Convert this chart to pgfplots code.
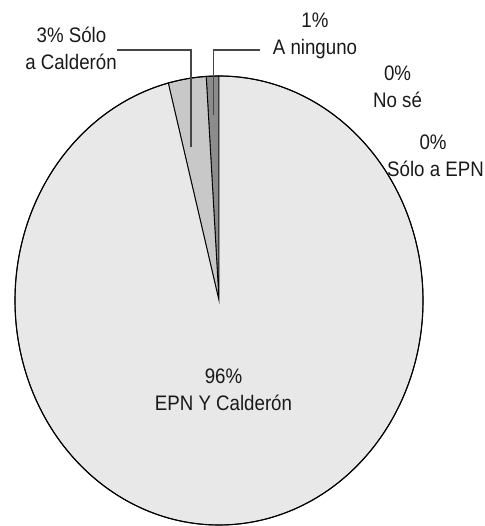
\documentclass[border=0pt]{standalone}
\usepackage{pgfplots}
\pgfplotsset{compat=1.18}
\usepackage{fontspec}
\setmainfont{Liberation Sans}[FakeStretch=0.89]

% pie shares, in percent, counter-clockwise from the top
\def\vNinguno{1}
\def\vCalderon{3}
\def\vAmbos{96}
\def\vNose{0}
\def\vEpn{0}

\definecolor{sliceLight}{RGB}{232,232,232}
\definecolor{sliceMid}{RGB}{200,200,200}
\definecolor{sliceDark}{RGB}{140,140,140}
\definecolor{txt}{RGB}{25,25,25}
\definecolor{leader}{RGB}{70,70,70}

% centre and radii of the (slightly tall) pie
\def\cx{219}\def\cy{225.5}\def\rx{204}\def\ry{224.5}

% #1 start share, #2 end share (cumulative percent), #3 colour
\newcommand\slice[3]{%
  \filldraw[fill=#3, draw=black, line width=0.9bp]
    (axis cs:\cx,\cy) --
    (axis cs:{\cx+\rx*cos(90+3.6*(#1))},{\cy+\ry*sin(90+3.6*(#1))})
    arc[start angle={90+3.6*(#1)}, end angle={90+3.6*(#2)}, x radius=\rx, y radius=\ry]
    -- cycle;}

\tikzset{lab/.style={anchor=base, inner sep=0pt, text=txt,
  font=\fontsize{21bp}{27bp}\selectfont}}

\begin{document}
\begin{tikzpicture}
\begin{axis}[
  width=485bp, height=526bp, scale only axis,
  xmin=0, xmax=485, ymin=0, ymax=526,
  axis lines=none, clip=false,
]
\slice{0}{\vNinguno}{sliceDark}
\slice{\vNinguno}{\vNinguno+\vCalderon}{sliceMid}
\slice{\vNinguno+\vCalderon}{\vNinguno+\vCalderon+\vAmbos}{sliceLight}
\draw[black, line width=1.1bp] (axis cs:\cx,\cy) ellipse[x radius=\rx, y radius=\ry];

% leader lines
\draw[leader, line width=1.2bp] (axis cs:117,476) -- (axis cs:191,476) -- (axis cs:191,379);
\draw[leader, line width=1.2bp] (axis cs:260,476) -- (axis cs:213.5,476) -- (axis cs:213.5,411);

% labels
\node[lab] at (axis cs:223.5,142) {\vAmbos\%};
\node[lab] at (axis cs:223.5,115) {EPN Y Calderón};
\node[lab] at (axis cs:71.5,483) {\vCalderon\% Sólo};
\node[lab] at (axis cs:71,456) {a Calderón};
\node[lab] at (axis cs:315,498) {\vNinguno\%};
\node[lab] at (axis cs:315,471) {A ninguno};
\node[lab] at (axis cs:397.5,445) {\vNose\%};
\node[lab] at (axis cs:397.5,418) {No sé};
\node[lab] at (axis cs:433,376) {\vEpn\%};
\node[lab] at (axis cs:435.5,349) {Sólo a EPN};
\end{axis}
\pgfresetboundingbox
\path (0,0) rectangle (485bp,526bp);
\end{tikzpicture}
\end{document}
